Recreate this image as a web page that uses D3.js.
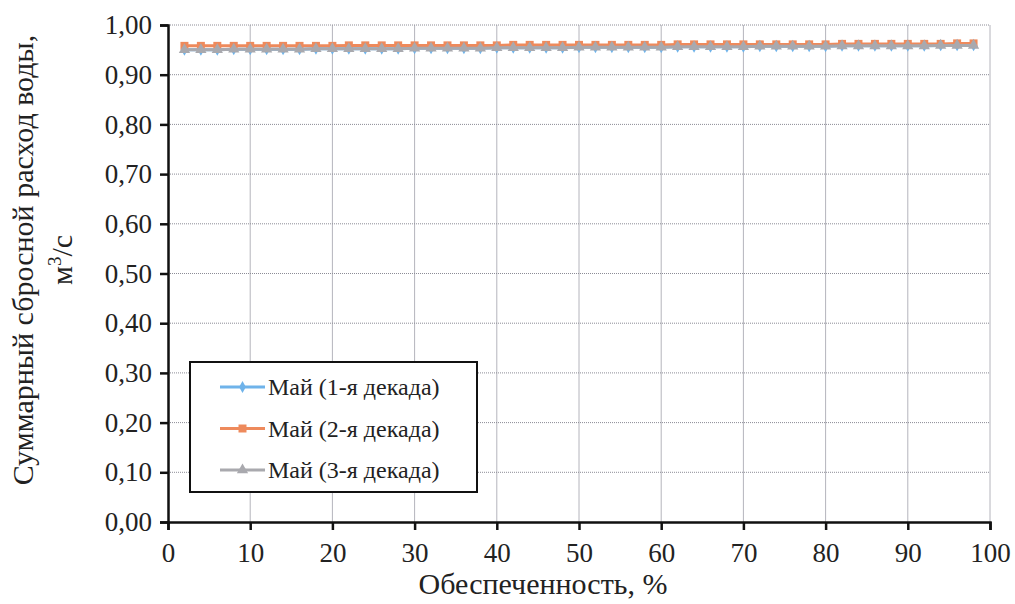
<!DOCTYPE html>
<html>
<head>
<meta charset="utf-8">
<script src="https://cdn.jsdelivr.net/npm/d3@7"></script>
<style>
  body { margin: 0; background: #fff; }
</style>
</head>
<body>
<div id="chart"></div>
<script>
// data
var xValues = [2, 4, 6, 8, 10, 12, 14, 16, 18, 20, 22, 24, 26, 28, 30, 32, 34, 36, 38, 40,
  42, 44, 46, 48, 50, 52, 54, 56, 58, 60, 62, 64, 66, 68, 70, 72, 74, 76, 78, 80,
  82, 84, 86, 88, 90, 92, 94, 96, 98];

var may1 = [0.950, 0.950, 0.950, 0.951, 0.951, 0.951, 0.951, 0.951, 0.952, 0.952,
  0.952, 0.952, 0.952, 0.952, 0.953, 0.953, 0.953, 0.953, 0.953, 0.954,
  0.954, 0.954, 0.954, 0.954, 0.955, 0.955, 0.955, 0.955, 0.955, 0.955,
  0.956, 0.956, 0.956, 0.956, 0.956, 0.957, 0.957, 0.957, 0.957, 0.957,
  0.958, 0.958, 0.958, 0.958, 0.958, 0.958, 0.959, 0.959, 0.959];

var may2 = [0.958, 0.958, 0.958, 0.958, 0.958, 0.958, 0.958, 0.958, 0.958, 0.958,
  0.959, 0.959, 0.959, 0.959, 0.959, 0.959, 0.959, 0.959, 0.959, 0.959,
  0.960, 0.960, 0.960, 0.960, 0.960, 0.960, 0.960, 0.960, 0.960, 0.960,
  0.961, 0.961, 0.961, 0.961, 0.961, 0.961, 0.961, 0.961, 0.961, 0.961,
  0.962, 0.962, 0.962, 0.962, 0.962, 0.962, 0.962, 0.963, 0.963];

var may3 = [0.950, 0.950, 0.950, 0.951, 0.951, 0.951, 0.951, 0.951, 0.952, 0.952,
  0.952, 0.952, 0.952, 0.952, 0.953, 0.953, 0.953, 0.953, 0.953, 0.954,
  0.954, 0.954, 0.954, 0.954, 0.955, 0.955, 0.955, 0.955, 0.955, 0.955,
  0.956, 0.956, 0.956, 0.956, 0.956, 0.957, 0.957, 0.957, 0.957, 0.957,
  0.958, 0.958, 0.958, 0.958, 0.958, 0.958, 0.959, 0.959, 0.959];

var seriesNames = ["Май (1-я декада)", "Май (2-я декада)", "Май (3-я декада)"];
var xTicks = [0, 10, 20, 30, 40, 50, 60, 70, 80, 90, 100];
var yTicks = [0, 0.1, 0.2, 0.3, 0.4, 0.5, 0.6, 0.7, 0.8, 0.9, 1.0];

var FONT = "Liberation Serif";

var svgWidth = 1015;
var svgHeight = 604;

var margin = {
  top: 25,
  right: 25,
  bottom: 82,
  left: 168
};

var width = svgWidth - margin.left - margin.right;
var height = svgHeight - margin.top - margin.bottom;

var svg = d3.select("#chart")
  .append("svg")
  .attr("width", svgWidth)
  .attr("height", svgHeight)
  .attr("font-family", FONT);

var chartGroup = svg.append("g")
  .attr("transform", `translate(${margin.left}, ${margin.top})`);

var xScale = d3.scaleLinear().domain([0, 100]).range([0, width]);
var yScale = d3.scaleLinear().domain([0, 1]).range([height, 0]);

// grid
chartGroup.selectAll(".vgrid")
  .data(xTicks.slice(1))
  .enter()
  .append("line")
  .attr("x1", d => xScale(d))
  .attr("x2", d => xScale(d))
  .attr("y1", 0)
  .attr("y2", height)
  .attr("stroke", "#b4b4bc")
  .attr("stroke-width", 1);

chartGroup.selectAll(".hgrid")
  .data(yTicks.slice(1))
  .enter()
  .append("line")
  .attr("x1", 0)
  .attr("x2", width)
  .attr("y1", d => yScale(d))
  .attr("y2", d => yScale(d))
  .attr("stroke", "#8c8c96")
  .attr("stroke-width", 1)
  .attr("stroke-dasharray", "1,1");

var commaFmt = d => d3.format(".2f")(d).replace(".", ",");

var bottomAxis = d3.axisBottom(xScale).tickValues(xTicks).tickSize(8).tickPadding(13);
var leftAxis = d3.axisLeft(yScale).tickValues(yTicks).tickSize(8).tickPadding(8).tickFormat(commaFmt);

var xAxisG = chartGroup.append("g")
  .attr("transform", `translate(0, ${height})`)
  .call(bottomAxis);

var yAxisG = chartGroup.append("g")
  .call(leftAxis);

[xAxisG, yAxisG].forEach(function(g) {
  g.attr("font-family", FONT).attr("font-size", 27);
  g.select(".domain").attr("stroke", "#111").attr("stroke-width", 2.5);
  g.selectAll(".tick line").attr("stroke", "#111").attr("stroke-width", 2.5);
  g.selectAll(".tick text").attr("fill", "#222");
});

// lines and markers
var series = [
  { name: seriesNames[0], values: may1, color: "#6fb3ea", shape: d3.symbolDiamond, size: 40 },
  { name: seriesNames[1], values: may2, color: "#ee8a5c", shape: d3.symbolSquare, size: 64 },
  { name: seriesNames[2], values: may3, color: "#a9a9ae", shape: d3.symbolTriangle, size: 55 }
];

var line = d3.line()
  .x((d, i) => xScale(xValues[i]))
  .y(d => yScale(d));

series.forEach(function(s) {
  chartGroup.append("path")
    .datum(s.values)
    .attr("fill", "none")
    .attr("stroke", s.color)
    .attr("stroke-width", 3)
    .attr("d", line);

  chartGroup.selectAll(null)
    .data(s.values)
    .enter()
    .append("path")
    .attr("d", d3.symbol().type(s.shape).size(s.size))
    .attr("transform", (d, i) => `translate(${xScale(xValues[i])}, ${yScale(d)})`)
    .attr("fill", s.color);
});

// legend
var legend = chartGroup.append("g")
  .attr("transform", `translate(${190 - margin.left}, ${362 - margin.top})`);

legend.append("rect")
  .attr("width", 287)
  .attr("height", 130)
  .attr("fill", "#fff")
  .attr("stroke", "#111")
  .attr("stroke-width", 2);

series.forEach(function(s, i) {
  var yy = 25 + i * 41.5;
  legend.append("line")
    .attr("x1", 30)
    .attr("x2", 75)
    .attr("y1", yy)
    .attr("y2", yy)
    .attr("stroke", s.color)
    .attr("stroke-width", 3);
  legend.append("path")
    .attr("d", d3.symbol().type(s.shape).size(s.size))
    .attr("transform", `translate(52.5, ${yy})`)
    .attr("fill", s.color);
  legend.append("text")
    .attr("x", 78)
    .attr("y", yy)
    .attr("dy", "0.35em")
    .attr("fill", "#222")
    .attr("font-size", 24)
    .text(s.name);
});

// axis titles
svg.append("text")
  .attr("x", 543)
  .attr("y", 594)
  .attr("text-anchor", "middle")
  .attr("fill", "#222")
  .attr("font-size", 30)
  .text("Обеспеченность, %");

var yTitle = svg.append("text")
  .attr("transform", "translate(0, 260) rotate(-90)")
  .attr("text-anchor", "middle")
  .attr("fill", "#222")
  .attr("font-size", 30);

yTitle.append("tspan")
  .attr("x", 0)
  .attr("y", 33)
  .text("Суммарный сбросной расход воды,");

var t2 = yTitle.append("tspan")
  .attr("x", 0)
  .attr("y", 72)
  .text("м");
t2.append("tspan").attr("dy", -11).attr("font-size", 19).text("3");
t2.append("tspan").attr("dy", 11).text("/с");
</script>
</body>
</html>
